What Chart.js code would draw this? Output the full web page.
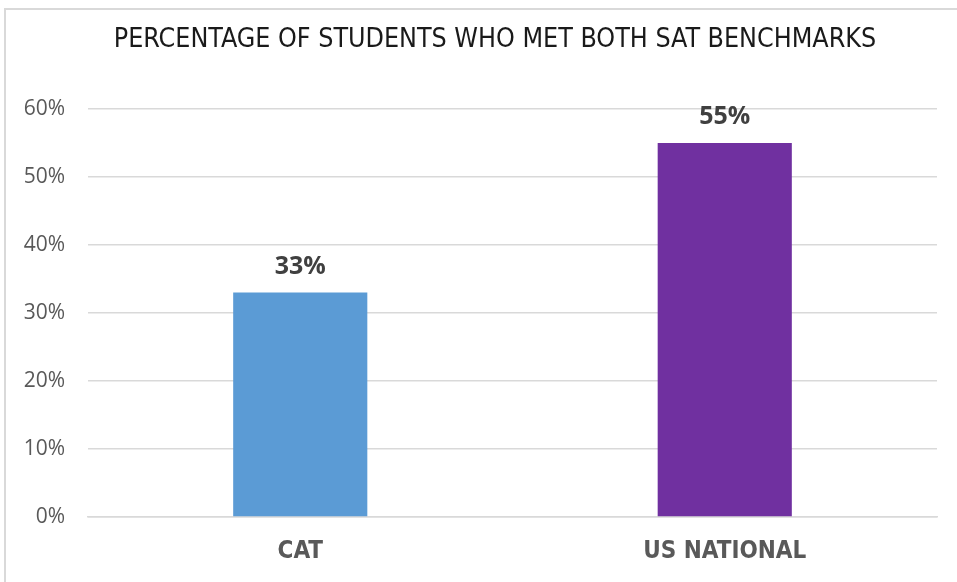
<!DOCTYPE html>
<html lang="en">
<head>
    <meta charset="UTF-8">
    <title>SAT Benchmarks</title>
    <script src="https://cdn.jsdelivr.net/npm/chart.js"></script>
    <style>
        html, body {
            margin: 0;
            padding: 0;
            background: #fff;
        }

        .frame {
            position: relative;
            width: 957px;
            height: 582px;
            overflow: hidden;
        }

        .frame .edge {
            position: absolute;
            left: 4px;
            top: 8px;
            right: -10px;
            bottom: -10px;
            border-left: 2px solid #d9d9d9;
            border-top: 2px solid #d9d9d9;
        }

        canvas {
            position: absolute;
            left: 0;
            top: 0;
        }
    </style>
</head>
<body>
    <div class="frame">
        <div class="edge"></div>
        <canvas id="chart" width="957" height="582"></canvas>
    </div>

    <script>
        const chartTitle = 'PERCENTAGE OF STUDENTS WHO MET BOTH SAT BENCHMARKS';
        const categories = ['CAT', 'US NATIONAL'];
        const percentMet = [33, 55];
        const barColors = ['#5B9BD5', '#7030A0'];
        const yTicks = [0, 10, 20, 30, 40, 50, 60];

        const narrowFont = '"Liberation Sans Narrow", "DejaVu Sans Condensed", sans-serif';

        // excel centres the title on the whole chart frame, not the plot,
        // so draw it by hand
        const frameTitle = {
            id: 'frameTitle',
            afterDraw(chart) {
                const ctx = chart.ctx;
                ctx.save();
                ctx.font = '26.6px ' + narrowFont;
                ctx.fillStyle = '#1a1a1a';
                ctx.textAlign = 'center';
                ctx.textBaseline = 'middle';
                ctx.fillText(chartTitle, 495, 40);
                ctx.restore();
            }
        };

        // value labels above each bar
        const barLabels = {
            id: 'barLabels',
            afterDatasetsDraw(chart) {
                const ctx = chart.ctx;
                const meta = chart.getDatasetMeta(0);
                ctx.save();
                ctx.font = 'bold 25px "Open Sans"';
                ctx.fillStyle = '#404040';
                ctx.textAlign = 'center';
                ctx.textBaseline = 'middle';
                meta.data.forEach((bar, i) => {
                    ctx.fillText(percentMet[i] + '%', bar.x, bar.y - 26);
                });
                ctx.restore();
            }
        };

        const ctx = document.getElementById('chart').getContext('2d');
        new Chart(ctx, {
            type: 'bar',
            data: {
                labels: categories,
                datasets: [{
                    data: percentMet,
                    backgroundColor: barColors,
                    categoryPercentage: 1,
                    barPercentage: 0.316
                }]
            },
            options: {
                responsive: false,
                animation: false,
                layout: {
                    padding: { left: 0, right: 20, top: 109, bottom: 0 }
                },
                plugins: {
                    legend: { display: false },
                    tooltip: { enabled: false },
                    title: { display: false }
                },
                scales: {
                    x: {
                        grid: { display: false, drawTicks: false },
                        border: { color: '#d9d9d9', width: 1.5 },
                        ticks: {
                            color: '#595959',
                            padding: 20,
                            font: { family: narrowFont, size: 24, weight: 'bold' }
                        },
                        afterFit(scale) { scale.height = 65; }
                    },
                    y: {
                        min: 0,
                        max: 60,
                        afterBuildTicks(scale) {
                            scale.ticks = yTicks.map(v => ({ value: v }));
                        },
                        grid: { color: '#d9d9d9', lineWidth: 1.5, drawTicks: false },
                        border: { display: false },
                        ticks: {
                            color: '#595959',
                            padding: 23,
                            font: { family: '"Open Sans", sans-serif', size: 21 },
                            callback: v => v + '%'
                        },
                        afterFit(scale) { scale.width = 88; }
                    }
                }
            },
            plugins: [barLabels, frameTitle]
        });
    </script>
</body>
</html>
